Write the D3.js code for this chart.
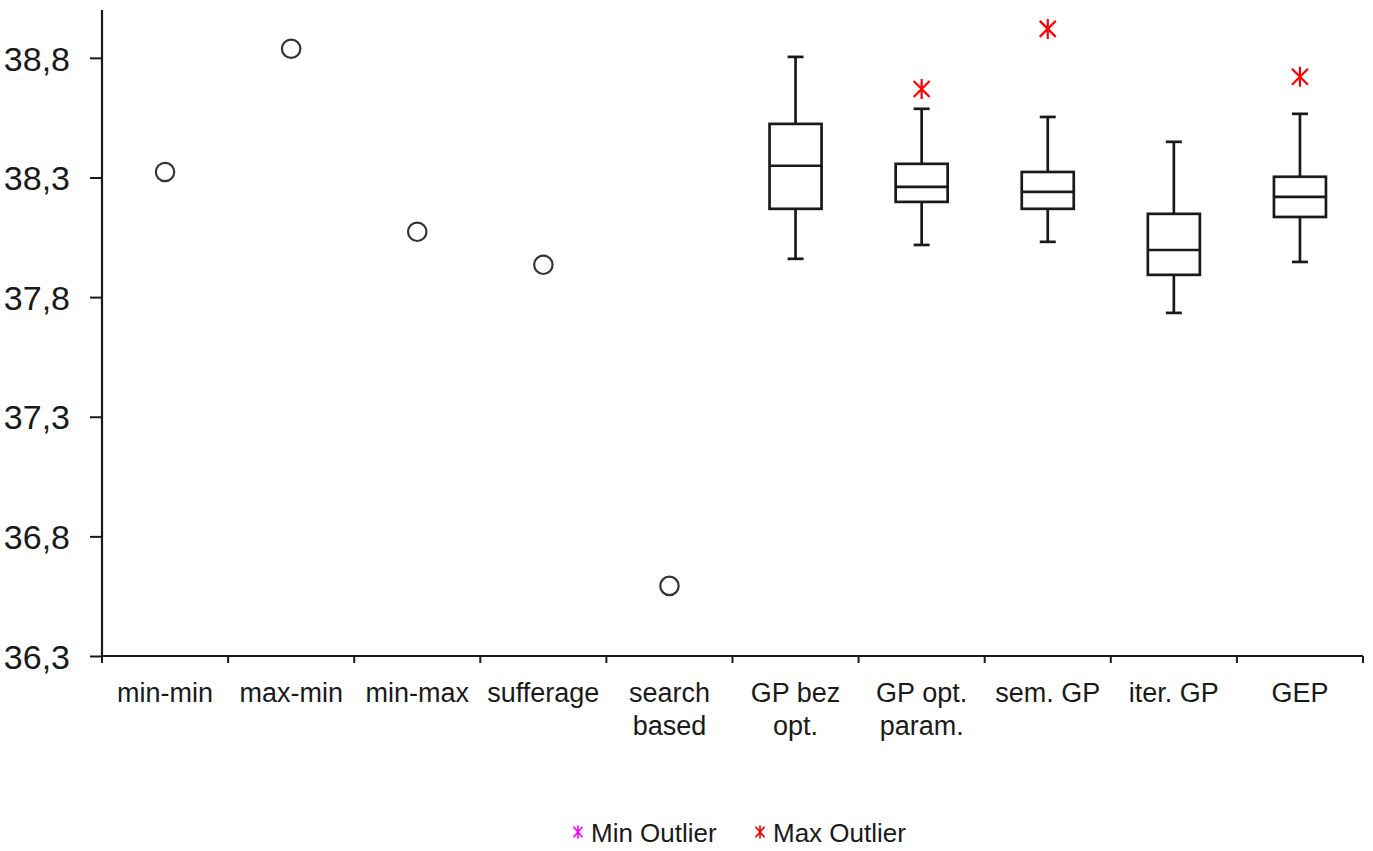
<!DOCTYPE html>
<html>
<head>
<meta charset="utf-8">
<script src="https://cdn.jsdelivr.net/npm/d3@7"></script>
<style>
  html, body { margin: 0; padding: 0; background: #fff; }
  svg { display: block; }
  text { font-family: Arial, "Liberation Sans", sans-serif; fill: #1a1a1a; }
</style>
</head>
<body>
<script>
// ---- data ----
const categories = ["min-min", "max-min", "min-max", "sufferage", "search based",
  "GP bez opt.", "GP opt. param.", "sem. GP", "iter. GP", "GEP"];
const categoryLines = [["min-min"], ["max-min"], ["min-max"], ["sufferage"], ["search", "based"],
  ["GP bez", "opt."], ["GP opt.", "param."], ["sem. GP"], ["iter. GP"], ["GEP"]];

const singleCategories = ["min-min", "max-min", "min-max", "sufferage", "search based"];
const singleValues = [38.323, 38.838, 38.073, 37.935, 36.593];

const boxCategories = ["GP bez opt.", "GP opt. param.", "sem. GP", "iter. GP", "GEP"];
const whiskerLow  = [37.960, 38.018, 38.031, 37.734, 37.947];
const q1Values    = [38.169, 38.198, 38.169, 37.893, 38.135];
const medianValues= [38.349, 38.261, 38.240, 37.997, 38.219];
const q3Values    = [38.524, 38.357, 38.323, 38.148, 38.303];
const whiskerHigh = [38.804, 38.587, 38.553, 38.449, 38.566];
const maxOutliers = [null, 38.670, 38.921, null, 38.721];
const minOutliers = [null, null, null, null, null];

const yTicks = [36.3, 36.8, 37.3, 37.8, 38.3, 38.8];
const legendItems = ["Min Outlier", "Max Outlier"];
const legendColors = ["#ff00ff", "#ff0000"];

// ---- chart ----
const W = 1373, H = 851;
const svg = d3.select("body").append("svg").attr("width", W).attr("height", H);
svg.append("rect").attr("width", W).attr("height", H).attr("fill", "#fff");

const y = d3.scaleLinear().domain([36.3, 39.0]).range([656, 10]);
const x = d3.scaleBand().domain(categories).range([102, 1363]);
const ink = "#1a1a1a";

// Y axis
const yAxis = d3.axisLeft(y).tickValues(yTicks).tickSize(12).tickPadding(20)
  .tickFormat(d => d3.format(".1f")(d).replace(".", ","));
const gy = svg.append("g").attr("transform", `translate(${x.range()[0]},0)`).call(yAxis);
gy.select(".domain").attr("stroke", ink).attr("stroke-width", 2.2)
  .attr("d", `M0,${y.range()[1]}V${y.range()[0]}`);
gy.selectAll(".tick line").attr("stroke", ink).attr("stroke-width", 2);
gy.selectAll(".tick text").style("font-size", "34px").attr("dy", "0.36em")
  .attr("font-family", "Arial, 'Liberation Sans', sans-serif").attr("fill", "#1a1a1a");

// X axis (ticks at band boundaries)
const gx = svg.append("g");
gx.append("line").attr("x1", x.range()[0]).attr("x2", x.range()[1])
  .attr("y1", y(36.3)).attr("y2", y(36.3)).attr("stroke", ink).attr("stroke-width", 2.2);
const boundaries = d3.range(categories.length + 1).map(i => x.range()[0] + i * x.step());
gx.selectAll(".xt").data(boundaries).enter().append("line")
  .attr("x1", d => d).attr("x2", d => d)
  .attr("y1", y(36.3)).attr("y2", y(36.3) + 7)
  .attr("stroke", ink).attr("stroke-width", 2);
const lbl = gx.selectAll(".xl").data(categories).enter().append("text")
  .attr("text-anchor", "middle").style("font-size", "27px")
  .attr("transform", d => `translate(${x(d) + x.bandwidth() / 2},${y(36.3) + 46})`);
lbl.each(function (d, i) {
  const t = d3.select(this);
  categoryLines[i].forEach((line, j) => {
    t.append("tspan").attr("x", 0).attr("y", j * 33).text(line);
  });
});

// single-value circles
svg.selectAll(".pt").data(singleCategories).enter().append("circle")
  .attr("cx", d => x(d) + x.bandwidth() / 2)
  .attr("cy", (d, i) => y(singleValues[i]))
  .attr("r", 9.2).attr("fill", "none").attr("stroke", "#333").attr("stroke-width", 2.2);

// box plots
const boxW = 52, capW = 16, sw = 2.7;
const boxes = svg.selectAll(".box").data(boxCategories).enter().append("g")
  .attr("transform", d => `translate(${x(d) + x.bandwidth() / 2},0)`);
boxes.append("line").attr("x1", 0).attr("x2", 0)
  .attr("y1", (d, i) => y(whiskerHigh[i])).attr("y2", (d, i) => y(q3Values[i]))
  .attr("stroke", ink).attr("stroke-width", sw);
boxes.append("line").attr("x1", 0).attr("x2", 0)
  .attr("y1", (d, i) => y(q1Values[i])).attr("y2", (d, i) => y(whiskerLow[i]))
  .attr("stroke", ink).attr("stroke-width", sw);
boxes.append("line").attr("x1", -capW / 2).attr("x2", capW / 2)
  .attr("y1", (d, i) => y(whiskerHigh[i])).attr("y2", (d, i) => y(whiskerHigh[i]))
  .attr("stroke", ink).attr("stroke-width", sw);
boxes.append("line").attr("x1", -capW / 2).attr("x2", capW / 2)
  .attr("y1", (d, i) => y(whiskerLow[i])).attr("y2", (d, i) => y(whiskerLow[i]))
  .attr("stroke", ink).attr("stroke-width", sw);
boxes.append("rect").attr("x", -boxW / 2).attr("width", boxW)
  .attr("y", (d, i) => y(q3Values[i]))
  .attr("height", (d, i) => y(q1Values[i]) - y(q3Values[i]))
  .attr("fill", "#fff").attr("stroke", ink).attr("stroke-width", sw);
boxes.append("line").attr("x1", -boxW / 2).attr("x2", boxW / 2)
  .attr("y1", (d, i) => y(medianValues[i])).attr("y2", (d, i) => y(medianValues[i]))
  .attr("stroke", ink).attr("stroke-width", sw);

// asterisk marker (vertical stroke + two diagonals)
function asterisk(rx, ry) {
  const p = d3.path();
  p.moveTo(0, -ry); p.lineTo(0, ry);
  p.moveTo(-rx, -ry * 0.8); p.lineTo(rx, ry * 0.8);
  p.moveTo(-rx, ry * 0.8); p.lineTo(rx, -ry * 0.8);
  return p.toString();
}
boxes.each(function (d, i) {
  const g = d3.select(this);
  if (maxOutliers[i] != null) {
    g.append("path").attr("d", asterisk(8, 10))
      .attr("transform", `translate(0,${y(maxOutliers[i])})`)
      .attr("stroke", legendColors[1]).attr("stroke-width", 2.2).attr("fill", "none");
  }
  if (minOutliers[i] != null) {
    g.append("path").attr("d", asterisk(8, 10))
      .attr("transform", `translate(0,${y(minOutliers[i])})`)
      .attr("stroke", legendColors[0]).attr("stroke-width", 2.2).attr("fill", "none");
  }
});

// legend
const legendX = [578, 760];
const leg = svg.selectAll(".leg").data(legendItems).enter().append("g")
  .attr("transform", (d, i) => `translate(${legendX[i]},832)`);
leg.append("path").attr("d", asterisk(4.5, 6.5))
  .attr("stroke", (d, i) => legendColors[i]).attr("stroke-width", 1.7).attr("fill", "none");
leg.append("text").attr("x", 13).attr("y", 10).style("font-size", "26px").text(d => d);
</script>
</body>
</html>
